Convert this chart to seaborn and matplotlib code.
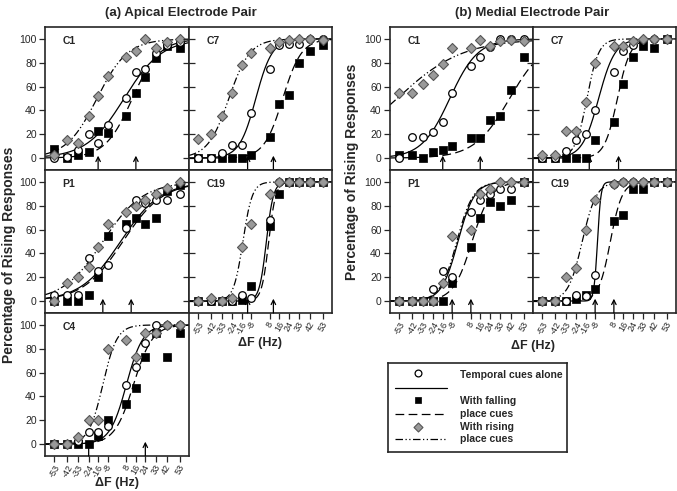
import numpy as np
import pandas as pd
import matplotlib.pyplot as plt
import seaborn as sns

# x values (Hz) and tick labels
FREQS = [-53, -42, -33, -24, -16, -8, 8, 16, 24, 33, 42, 53]
TICK_LABELS = ["-53", "-42", "-33", "-24", "-16", "-8", "8", "16", "24", "33", "42", "53"]
CUES = ["temporal", "falling", "rising"]

# % rising responses, one list per cue condition
# (a) apical electrode pair
ap_c1_temporal = [0, 1, 7, 20, 13, 28, 50, 72, 75, 88, 95, 97]
ap_c1_falling = [8, 0, 3, 5, 23, 21, 35, 55, 68, 84, 94, 92]
ap_c1_rising = [3, 15, 13, 35, 52, 69, 85, 90, 100, 92, 97, 100]

ap_c7_temporal = [0, 0, 4, 11, 11, 38, 75, 95, 96, 96, 100, 100]
ap_c7_falling = [0, 0, 0, 0, 0, 3, 18, 45, 53, 80, 90, 95]
ap_c7_rising = [16, 20, 35, 55, 78, 88, 92, 97, 99, 100, 100, 99]

ap_p1_temporal = [5, 5, 5, 36, 25, 30, 61, 85, 82, 85, 85, 90]
ap_p1_falling = [0, 0, 0, 5, 20, 55, 65, 70, 65, 70, 92, 97]
ap_p1_rising = [0, 15, 20, 29, 45, 65, 75, 80, 85, 90, 95, 100]

ap_c19_temporal = [0, 0, 0, 0, 5, 3, 68, 100, 100, 100, 100, 100]
ap_c19_falling = [0, 0, 0, 0, 1, 13, 63, 90, 100, 100, 100, 100]
ap_c19_rising = [0, 3, 0, 3, 45, 65, 90, 100, 100, 100, 100, 100]

ap_c4_temporal = [0, 0, 3, 10, 10, 15, 50, 65, 85, 100, 100, 100]
ap_c4_falling = [0, 0, 0, 0, 7, 20, 34, 47, 73, 93, 73, 93]
ap_c4_rising = [0, 0, 6, 20, 20, 80, 87, 73, 93, 93, 100, 100]

# (b) medial electrode pair
md_c1_temporal = [0, 18, 18, 22, 30, 55, 77, 85, 93, 100, 100, 100]
md_c1_falling = [3, 3, 0, 5, 7, 10, 17, 17, 32, 35, 57, 85]
md_c1_rising = [55, 55, 62, 70, 79, 92, 92, 99, 94, 98, 99, 98]

md_c7_temporal = [0, 0, 6, 15, 20, 40, 72, 90, 95, 99, 100, 100]
md_c7_falling = [0, 0, 0, 0, 0, 15, 30, 62, 85, 94, 92, 100]
md_c7_rising = [3, 3, 23, 23, 47, 80, 94, 94, 98, 100, 100, 100]

md_p1_temporal = [0, 0, 0, 10, 25, 20, 75, 85, 90, 94, 94, 100]
md_p1_falling = [0, 0, 0, 0, 0, 15, 45, 70, 83, 80, 85, 100]
md_p1_rising = [0, 0, 0, 0, 15, 55, 60, 90, 94, 100, 100, 100]

md_c19_temporal = [0, 0, 0, 5, 4, 22, 98, 100, 100, 100, 100, 100]
md_c19_falling = [0, 0, 0, 2, 5, 10, 67, 72, 94, 94, 100, 100]
md_c19_rising = [0, 0, 20, 28, 60, 85, 98, 100, 100, 100, 100, 100]

# logistic fits (midpoint, scale in Hz), order: temporal, falling, rising
ap_c1_mid, ap_c1_scale = [6, 13, -17], [16, 11.5, 13]
ap_c7_mid, ap_c7_scale = [-4, 19, -27], [7, 8, 9]
ap_p1_mid, ap_p1_scale = [3, 5, -12], [17, 17, 17]
ap_c19_mid, ap_c19_scale = [5, 7, -15], [3, 3, 4]
ap_c4_mid, ap_c4_scale = [8, 14, -12], [7, 8, 6]
md_c1_mid, md_c1_scale = [-10, 41, -55], [12, 15, 28]
md_c7_mid, md_c7_scale = [-5, 11, -15], [7, 5.5, 5]
md_p1_mid, md_p1_scale = [-3, 9, -4], [7, 8, 7]
md_c19_mid, md_c19_scale = [-6, 5, -19], [1.5, 5, 6]

# arrow positions on the x axis (Hz)
ap_c1_arrows = [-16, 16]
ap_c7_arrows = [-11, 11]
ap_p1_arrows = [-12, 12]
ap_c19_arrows = [-11, 11]
ap_c4_arrows = [-24, 24]
md_c1_arrows = [-16, 16]
md_c7_arrows = [-13, 12]
md_p1_arrows = [-8, 8]
md_c19_arrows = [-8, 8]

# label, rect px (l, t, r, b), y tick labels?, x tick labels?, series, fits, arrows
panels = [
    ("C1", (45, 27, 189, 170), True, False, [ap_c1_temporal, ap_c1_falling, ap_c1_rising], ap_c1_mid, ap_c1_scale, ap_c1_arrows),
    ("C7", (189, 27, 332, 170), False, False, [ap_c7_temporal, ap_c7_falling, ap_c7_rising], ap_c7_mid, ap_c7_scale, ap_c7_arrows),
    ("P1", (45, 170, 189, 313), True, False, [ap_p1_temporal, ap_p1_falling, ap_p1_rising], ap_p1_mid, ap_p1_scale, ap_p1_arrows),
    ("C19", (189, 170, 332, 313), False, True, [ap_c19_temporal, ap_c19_falling, ap_c19_rising], ap_c19_mid, ap_c19_scale, ap_c19_arrows),
    ("C4", (45, 313, 189, 456), True, True, [ap_c4_temporal, ap_c4_falling, ap_c4_rising], ap_c4_mid, ap_c4_scale, ap_c4_arrows),
    ("C1", (390, 27, 533, 170), True, False, [md_c1_temporal, md_c1_falling, md_c1_rising], md_c1_mid, md_c1_scale, md_c1_arrows),
    ("C7", (533, 27, 676, 170), False, False, [md_c7_temporal, md_c7_falling, md_c7_rising], md_c7_mid, md_c7_scale, md_c7_arrows),
    ("P1", (390, 170, 533, 313), True, True, [md_p1_temporal, md_p1_falling, md_p1_rising], md_p1_mid, md_p1_scale, md_p1_arrows),
    ("C19", (533, 170, 676, 313), False, True, [md_c19_temporal, md_c19_falling, md_c19_rising], md_c19_mid, md_c19_scale, md_c19_arrows),
]

sns.set_style("ticks")
plt.rcParams["font.family"] = ["Liberation Sans", "DejaVu Sans"]
plt.rcParams["axes.linewidth"] = 1.2

W, H = 677, 491
fig = plt.figure(figsize=(W / 100, H / 100), dpi=100)

def px_rect(l, t, r, b):
    return [l / W, 1 - b / H, (r - l) / W, (b - t) / H]

LINESTYLES = {"temporal": "-", "falling": (0, (7, 3.5)), "rising": (0, (6, 2, 1, 2, 1, 2))}
MARKERS = {
    "temporal": dict(marker="o", s=30, color="white", edgecolor="black", linewidth=0.9, zorder=4),
    "falling": dict(marker="s", s=26, color="black", edgecolor="black", linewidth=0.5, zorder=3),
    "rising": dict(marker="D", s=26, color="#9a9a9a", edgecolor="#555555", linewidth=0.8, zorder=5),
}
xs = np.linspace(-61, 61, 400)

for label, rect, ylab, xlab, series, mids, scales, arrows in panels:
    ax = fig.add_axes(px_rect(*rect))
    for cue, vals, m, sc in zip(CUES, series, mids, scales):
        fit = pd.DataFrame({"x": xs, "y": 100 / (1 + np.exp(-(xs - m) / sc))})
        sns.lineplot(data=fit, x="x", y="y", ax=ax, color="black", lw=0.9,
                     linestyle=LINESTYLES[cue], errorbar=None, zorder=2)
    for cue, vals in zip(["falling", "temporal", "rising"], [series[1], series[0], series[2]]):
        pts = pd.DataFrame({"x": FREQS, "y": vals})
        sns.scatterplot(data=pts, x="x", y="y", ax=ax, legend=False, **MARKERS[cue])
    for a in arrows:
        ax.annotate("", xy=(a, 2), xytext=(a, -10),
                    arrowprops=dict(arrowstyle="->", lw=0.9, color="black",
                                    mutation_scale=8, shrinkA=0, shrinkB=0))
    ax.set_xlim(-61, 61)
    ax.set_ylim(-10, 110)
    ax.set_xlabel("")
    ax.set_ylabel("")
    ax.set_xticks(FREQS)
    ax.set_yticks([0, 20, 40, 60, 80, 100])
    if xlab:
        ax.set_xticklabels(TICK_LABELS, rotation=60, fontsize=6.5, ha="center")
    else:
        ax.set_xticklabels([])
    if ylab:
        ax.tick_params(axis="y", direction="out", length=4, width=0.9, labelsize=7.5, pad=2)
    else:
        ax.set_yticklabels([])
        ax.tick_params(axis="y", direction="inout", length=8, width=0.9)
    ax.tick_params(axis="x", direction="out", length=4, width=0.9, pad=1)
    ax.text(0.12, 0.9, label, transform=ax.transAxes, fontsize=7.5, fontweight="bold",
            va="center", ha="left")

# titles and axis labels
fig.text(181 / W, 1 - 13 / H, "(a) Apical Electrode Pair", ha="center", va="center",
         fontsize=9.5, fontweight="bold")
fig.text(532 / W, 1 - 13 / H, "(b) Medial Electrode Pair", ha="center", va="center",
         fontsize=9.5, fontweight="bold")
fig.text(9 / W, 1 - 255 / H, "Percentage of Rising Responses", rotation=90,
         ha="center", va="center", fontsize=10, fontweight="bold")
fig.text(352 / W, 1 - 172 / H, "Percentage of Rising Responses", rotation=90,
         ha="center", va="center", fontsize=10, fontweight="bold")
fig.text(117 / W, 1 - 483 / H, "\u0394F (Hz)", ha="center", va="center", fontsize=9, fontweight="bold")
fig.text(260 / W, 1 - 343 / H, "\u0394F (Hz)", ha="center", va="center", fontsize=9, fontweight="bold")
fig.text(533 / W, 1 - 346 / H, "\u0394F (Hz)", ha="center", va="center", fontsize=9, fontweight="bold")

# legend box
lg = fig.add_axes(px_rect(388, 363, 567, 452))
lg.set_xlim(0, 1)
lg.set_ylim(0, 1)
lg.set_xticks([])
lg.set_yticks([])
for sp in lg.spines.values():
    sp.set_linewidth(1.2)
rows = [("temporal", 0.89, 0.72, ["Temporal cues alone"], [0.865]),
        ("falling", 0.585, 0.43, ["With falling", "place cues"], [0.575, 0.43]),
        ("rising", 0.28, 0.145, ["With rising", "place cues"], [0.285, 0.145])]
for cue, my, ly, texts, tys in rows:
    st = MARKERS[cue]
    lg.scatter([0.17], [my], marker=st["marker"], s=st["s"] * 0.8, c=st["color"],
               edgecolors=st["edgecolor"], linewidths=st["linewidth"], zorder=3)
    lg.plot([0.04, 0.33], [ly, ly], color="black", lw=0.9, linestyle=LINESTYLES[cue])
    for t, ty in zip(texts, tys):
        lg.text(0.40, ty, t, fontsize=7.5, fontweight="bold", va="center", ha="left")

fig.savefig("out.png", dpi=100)
